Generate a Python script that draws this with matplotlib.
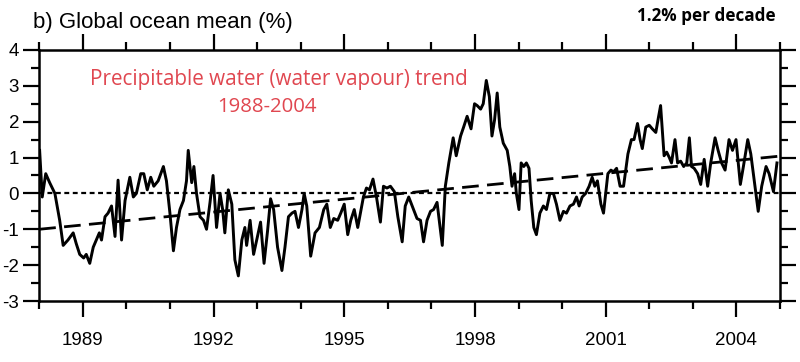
import matplotlib
matplotlib.use('Agg')
import matplotlib.pyplot as plt
from matplotlib.ticker import MultipleLocator, FixedLocator

plt.rcParams['axes.unicode_minus'] = False

# anomalies, (decimal year, %), in four stretches
years_a = [1988.01, 1988.07, 1988.15, 1988.24, 1988.36, 1988.47, 1988.55, 1988.66, 1988.78, 1988.85,
           1988.93, 1989.02, 1989.08, 1989.16, 1989.24, 1989.31, 1989.38, 1989.43, 1989.51, 1989.58,
           1989.66, 1989.74, 1989.81, 1989.89, 1989.97, 1990.08, 1990.16, 1990.23, 1990.33, 1990.40,
           1990.48, 1990.56, 1990.63, 1990.73, 1990.85, 1990.92, 1991.00, 1991.08, 1991.15, 1991.23,
           1991.31, 1991.38, 1991.42, 1991.50, 1991.55, 1991.61]
vals_a = [1.2, -0.1, 0.55, 0.3, 0.0, -0.75, -1.45, -1.3, -1.1, -1.4,
          -1.7, -1.8, -1.7, -1.95, -1.5, -1.3, -1.1, -1.3, -0.65, -0.55,
          -0.35, -1.2, 0.37, -1.3, -0.2, 0.45, -0.1, 0.0, 0.55, 0.55,
          0.1, 0.45, 0.2, 0.35, 0.75, 0.35, -0.55, -1.6, -0.95, -0.45,
          -0.2, 0.35, 1.2, 0.3, 0.75, 0.0]

years_b = [1991.69, 1991.77, 1991.84, 1991.92, 1991.99, 1992.07, 1992.15, 1992.21, 1992.26, 1992.34,
           1992.42, 1992.49, 1992.57, 1992.65, 1992.72, 1992.76, 1992.84, 1992.92, 1992.99, 1993.08,
           1993.16, 1993.24, 1993.31, 1993.38, 1993.47, 1993.57, 1993.64, 1993.72, 1993.80, 1993.87,
           1993.95, 1994.03, 1994.08, 1994.14, 1994.23, 1994.33, 1994.43, 1994.53, 1994.60, 1994.68,
           1994.76, 1994.85, 1994.92, 1995.00, 1995.08, 1995.15, 1995.23, 1995.31, 1995.37, 1995.44,
           1995.51, 1995.58, 1995.66, 1995.74, 1995.83, 1995.90, 1995.98, 1996.06, 1996.15, 1996.23,
           1996.33, 1996.40, 1996.48, 1996.59, 1996.67, 1996.75, 1996.82, 1996.90, 1996.98, 1997.05,
           1997.13]
vals_b = [-0.65, -0.75, -1.0, -0.25, 0.5, -0.95, 0.0, -0.45, -1.1, 0.1,
          -0.3, -1.85, -2.3, -1.3, -0.95, -1.45, -0.75, -1.7, -1.3, -0.8,
          -1.95, -1.05, -0.15, -0.45, -1.5, -2.15, -1.5, -0.65, -0.55, -0.5,
          -0.95, -0.45, 0.0, -0.35, -1.75, -1.1, -0.95, -0.45, -0.3, -0.95,
          -0.7, -0.75, -0.55, -0.3, -1.15, -0.75, -0.45, -0.95, -0.55, -0.1,
          0.15, 0.1, 0.4, -0.1, -0.8, 0.2, 0.15, 0.2, 0.05, -0.65,
          -1.35, -0.35, -0.1, -0.45, -0.7, -0.75, -1.35, -0.75, -0.5, -0.45,
          -0.25]

years_c = [1997.25, 1997.32, 1997.40, 1997.50, 1997.57, 1997.67, 1997.74, 1997.82, 1997.91, 1997.99,
           1998.05, 1998.13, 1998.19, 1998.26, 1998.33, 1998.39, 1998.45, 1998.51, 1998.57, 1998.65,
           1998.74, 1998.80, 1998.85, 1998.91, 1998.95, 1999.01, 1999.06, 1999.12, 1999.18, 1999.24,
           1999.29, 1999.35, 1999.41, 1999.49, 1999.57, 1999.64, 1999.72, 1999.80, 1999.87, 1999.95,
           2000.03, 2000.10, 2000.18, 2000.26, 2000.33, 2000.39, 2000.46, 2000.54, 2000.62, 2000.69,
           2000.75, 2000.81, 2000.89, 2000.95]
vals_c = [-1.45, 0.2, 0.85, 1.55, 1.05, 1.6, 1.85, 2.15, 1.8, 2.5,
          2.45, 2.35, 2.5, 3.15, 2.7, 1.6, 2.05, 2.8, 1.85, 1.4,
          1.2, 0.75, 0.2, 0.55, 0.0, -0.45, 0.85, 0.75, 0.85, 0.7,
          -0.2, -0.95, -1.15, -0.55, -0.35, -0.45, 0.0, 0.0, -0.3, -0.75,
          -0.5, -0.55, -0.35, -0.3, -0.1, -0.35, -0.1, 0.0, 0.2, 0.45,
          0.2, 0.35, -0.3, -0.55]

years_d = [2001.05, 2001.12, 2001.18, 2001.25, 2001.33, 2001.41, 2001.46, 2001.51, 2001.59, 2001.65,
           2001.73, 2001.79, 2001.84, 2001.92, 2002.00, 2002.07, 2002.15, 2002.20, 2002.26, 2002.34,
           2002.40, 2002.46, 2002.51, 2002.59, 2002.65, 2002.72, 2002.79, 2002.86, 2002.92, 2002.97,
           2003.03, 2003.11, 2003.18, 2003.26, 2003.34, 2003.41, 2003.51, 2003.58, 2003.66, 2003.74,
           2003.83, 2003.91, 2003.99, 2004.09, 2004.16, 2004.26, 2004.33, 2004.41, 2004.50, 2004.58,
           2004.68, 2004.75, 2004.85, 2004.93]
vals_d = [0.55, 0.65, 0.6, 0.7, 0.2, 0.2, 0.65, 1.1, 1.5, 1.5,
          1.95, 1.5, 1.25, 1.85, 1.9, 1.8, 1.7, 2.05, 2.45, 1.05,
          1.15, 1.0, 0.85, 1.5, 0.85, 0.9, 0.75, 0.85, 1.55, 0.75,
          0.7, 0.55, 0.25, 0.95, 0.2, 0.85, 1.55, 1.2, 0.85, 0.65,
          1.5, 1.2, 1.5, 0.25, 0.75, 1.5, 1.1, 0.35, -0.5, 0.2,
          0.75, 0.55, 0.05, 0.85]

years = years_a + years_b + years_c + years_d
values = vals_a + vals_b + vals_c + vals_d

# linear trend, 1.2% per decade
trend_years = [1988.0, 2005.0]
trend_vals = [-1.0, 1.04]

major_years = [1989, 1992, 1995, 1998, 2001, 2004]

fig = plt.figure(figsize=(8, 3.62), dpi=100)
ax = fig.add_axes([0.049, 0.1685, 0.926, 0.6935])

ax.axhline(0, color='black', lw=1.6, ls=(0, (2.2, 1.6)), zorder=1)
ax.plot(trend_years, trend_vals, color='black', lw=2.0, ls=(0, (6, 3)), zorder=2)
ax.plot(years, values, color='black', lw=2.1, zorder=3)

ax.set_xlim(1988, 2005)
ax.set_ylim(-3, 4)

ax.xaxis.set_major_locator(FixedLocator(major_years))
ax.xaxis.set_minor_locator(MultipleLocator(1))
ax.yaxis.set_major_locator(MultipleLocator(1))
ax.yaxis.set_minor_locator(MultipleLocator(0.5))

for s in ax.spines.values():
    s.set_linewidth(1.8)

ax.tick_params(which='both', direction='out', top=True, right=True, width=1.6, color='black')
ax.tick_params(which='major', length=11.5)
ax.tick_params(which='minor', length=5.8)
ax.tick_params(axis='x', which='major', pad=11, labelsize=13.5)
ax.tick_params(axis='y', which='major', pad=3, labelsize=13.5)
for lab in ax.get_xticklabels() + ax.get_yticklabels():
    lab.set_family('Liberation Sans')

red = '#e04750'
title = fig.text(0.041, 0.923, 'b) Global ocean mean (%)', family='Liberation Sans',
                 fontsize=16, ha='left', va='baseline')
rate = fig.text(0.969, 0.942, '1.2% per decade', family='Open Sans', fontweight='bold',
                fontsize=12, ha='right', va='baseline')
line1 = fig.text(0.1125, 0.765, 'Precipitable water (water vapour) trend', family='Open Sans',
                 fontsize=15, color=red, ha='left', va='baseline')
line2 = fig.text(0.334, 0.691, '1988-2004', family='Open Sans',
                 fontsize=15, color=red, ha='center', va='baseline')

# scale each label so its width matches the original (pixels)
renderer = fig.canvas.get_renderer()
for t, w in [(title, 260), (rate, 138), (line1, 378), (line2, 100)]:
    cur = t.get_window_extent(renderer).width
    t.set_fontsize(t.get_fontsize() * w / cur)

fig.savefig('out.png', dpi=100)
